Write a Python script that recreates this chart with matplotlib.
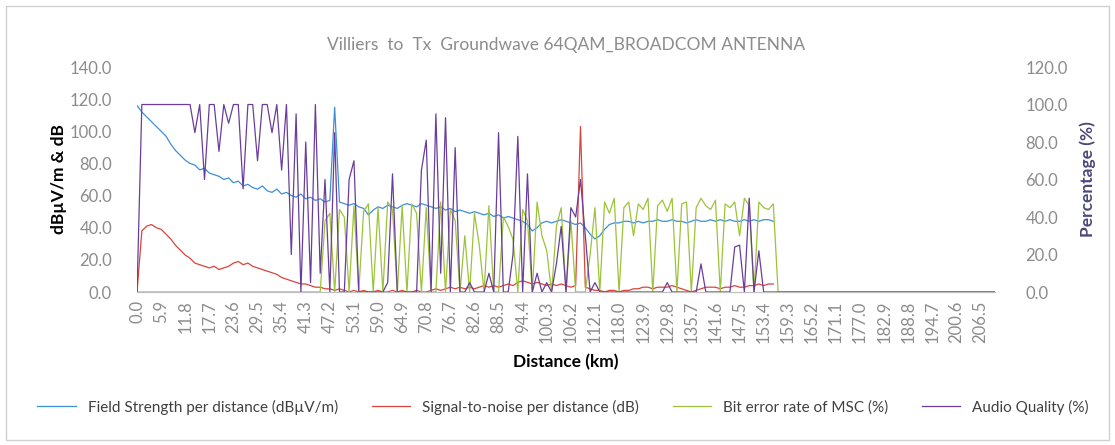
# Villiers to Tx groundwave measurement chart (64QAM, Broadcom antenna)
import matplotlib
matplotlib.use('Agg')
import matplotlib.pyplot as plt
from matplotlib.patches import Rectangle
import numpy as np

plt.rcParams['font.family'] = ['Lato', 'DejaVu Sans']

# x axis categories: one sample every 1.18 km, a label every 5 samples
tick_labels = ['0.0', '5.9', '11.8', '17.7', '23.6', '29.5', '35.4', '41.3', '47.2', '53.1',
               '59.0', '64.9', '70.8', '76.7', '82.6', '88.5', '94.4', '100.3', '106.2', '112.1',
               '118.0', '123.9', '129.8', '135.7', '141.6', '147.5', '153.4', '159.3', '165.2',
               '171.1', '177.0', '182.9', '188.8', '194.7', '200.6', '206.5']

# Field strength per distance (dBuV/m), left axis
field_strength = [116, 112, 109, 106, 103, 100, 97, 92, 88, 85,
                  82, 80, 79, 76, 77, 74, 73, 72, 70, 71,
                  68, 69, 66, 67, 65, 64, 66, 63, 62, 64,
                  61, 62, 60, 59, 61, 58, 59, 57, 58, 56,
                  57, 115, 56, 55, 54, 55, 53, 52, 48, 51,
                  53, 52, 54, 53, 52, 54, 55, 54, 53, 55,
                  54, 53, 52, 53, 51, 52, 50, 51, 50, 49,
                  50, 49, 48, 49, 47, 48, 46, 47, 46, 45,
                  44, 42, 38, 40, 43, 44, 43, 44, 45, 44,
                  43, 42, 43, 40, 36, 33, 35, 39, 42, 43,
                  43, 44, 44, 43, 44, 43, 44, 44, 45, 44,
                  44, 45, 44, 44, 43, 44, 45, 44, 44, 45,
                  44, 45, 44, 45, 44, 44, 45, 44, 45, 44, 45, 45, 44]

# Signal-to-noise per distance (dB), left axis
snr = [0, 38, 41, 42, 40, 39, 36, 33, 29, 26,
       23, 21, 18, 17, 16, 15, 16, 14, 15, 16,
       18, 19, 17, 18, 16, 15, 14, 13, 12, 11,
       9, 8, 7, 6, 5, 5, 4, 3, 3, 2,
       2, 1, 2, 1, 0, 1, 0, 1, 0, 0,
       1, 0, 0, 1, 0, 1, 0, 0, 1, 0,
       0, 1, 2, 1, 2, 3, 2, 3, 2, 3,
       2, 3, 4, 3, 4, 3, 4, 5, 4, 6,
       7, 6, 5, 6, 5, 4, 5, 4, 5, 4,
       3, 4, 103, 3, 2, 1, 1, 0, 1, 1,
       0, 1, 1, 2, 2, 3, 3, 2, 3, 3,
       3, 4, 3, 2, 1, 0, 1, 2, 3, 3,
       3, 2, 3, 3, 4, 3, 3, 4, 4, 5, 4, 5, 5]

# Bit error rate of MSC (%), right axis; no signal logged past 155.8 km
ber = [0, 0, 0, 0, 0, 0, 0, 0, 0, 0,
       0, 0, 0, 0, 0, 0, 0, 0, 0, 0,
       0, 0, 0, 0, 0, 0, 0, 0, 0, 0,
       0, 0, 0, 0, 0, 0, 0, 0, 0, 38,
       42, 0, 44, 40, 0, 46, 0, 43, 47, 0,
       45, 0, 48, 44, 0, 46, 0, 47, 42, 0,
       45, 0, 0, 48, 0, 44, 38, 0, 30, 0,
       42, 25, 0, 46, 0, 0, 40, 35, 28, 0,
       44, 38, 0, 48, 30, 22, 0, 35, 45, 0,
       38, 0, 0, 0, 20, 45, 0, 48, 42, 50,
       0, 45, 48, 30, 47, 44, 50, 0, 46, 49,
       43, 50, 0, 47, 48, 0, 45, 50, 46, 44,
       49, 0, 47, 45, 48, 30, 50, 46, 0, 48, 45, 44, 47] + [0] * 46

# Audio quality (%), right axis
audio = [0, 100, 100, 100, 100, 100, 100, 100, 100, 100,
         100, 100, 85, 100, 60, 100, 100, 75, 100, 90,
         100, 100, 55, 100, 100, 70, 100, 100, 85, 100,
         65, 100, 20, 95, 0, 80, 5, 100, 10, 60,
         0, 85, 0, 0, 60, 70, 0, 0, 0, 0,
         0, 0, 5, 63, 0, 0, 0, 0, 0, 65,
         81, 0, 95, 10, 93, 0, 77, 0, 0, 5,
         0, 0, 0, 10, 0, 85, 0, 0, 20, 83,
         0, 63, 0, 10, 0, 5, 0, 15, 35, 0,
         45, 40, 60, 30, 0, 5, 0, 0, 0, 0,
         0, 0, 0, 0, 0, 0, 0, 0, 0, 0,
         5, 0, 0, 0, 0, 0, 0, 15, 0, 0,
         0, 0, 0, 0, 24, 25, 0, 50, 0, 22, 0, 0, 0] + [0] * 46

fig = plt.figure(figsize=(11.15, 4.45), dpi=100)
fig.patches.append(Rectangle((0.005, 0.012), 0.99, 0.975, transform=fig.transFigure,
                             fill=False, edgecolor='#d0d0d0', lw=1))
ax = fig.add_axes([0.1229, 0.3438, 0.7695, 0.5056])
ax2 = ax.twinx()

l1, = ax.plot(np.arange(len(field_strength)), field_strength, color='#3f8ed8', lw=0.9,
              label='Field Strength per distance (dBµV/m)')
l2, = ax.plot(np.arange(len(snr)), snr, color='#d9443c', lw=0.9,
              label='Signal-to-noise per distance (dB)')
l3, = ax2.plot(np.arange(len(ber)), ber, color='#9cc33a', lw=0.9,
               label='Bit error rate of MSC (%)')
l4, = ax2.plot(np.arange(len(audio)), audio, color='#6a3d9a', lw=0.9,
               label='Audio Quality (%)')

ax.set_xlim(0, 178)
ax.set_ylim(0, 140)
ax2.set_ylim(0, 120)
ax.set_yticks(np.arange(0, 141, 20))
ax.set_yticklabels([f'{v:.1f}' for v in np.arange(0, 141, 20)])
ax2.set_yticks(np.arange(0, 121, 20))
ax2.set_yticklabels([f'{v:.1f}' for v in np.arange(0, 121, 20)])
ax.set_xticks(np.arange(0, 5 * len(tick_labels), 5))
ax.set_xticklabels(tick_labels, rotation=90)

grey = '#8c8c8c'
for a in (ax, ax2):
    for s in ('top', 'left', 'right'):
        a.spines[s].set_visible(False)
    a.spines['bottom'].set_color('#bfbfbf')
    a.tick_params(length=0, labelsize=12, colors=grey)
ax.tick_params(axis='y', pad=18)
ax2.tick_params(axis='y', pad=22)
ax.tick_params(axis='x', pad=6)

ax.set_title('Villiers  to  Tx  Groundwave 64QAM_BROADCOM ANTENNA', fontsize=12.5,
             color=grey, pad=12)
ax.set_xlabel('Distance (km)', fontsize=12.5, fontweight='bold', labelpad=8)
ax.set_ylabel('dBµV/m & dB', fontsize=12.5, fontweight='bold', labelpad=2)
ax2.set_ylabel('Percentage (%)', fontsize=12.5, fontweight='bold', labelpad=8, color='#4a4a7a')

fig.legend(handles=[l1, l2, l3, l4], loc='center', bbox_to_anchor=(0.505, 0.085), ncol=4,
           frameon=False, fontsize=11, handlelength=2.5, columnspacing=2.2,
           labelcolor='#404040')

fig.savefig('out.png', dpi=100)
